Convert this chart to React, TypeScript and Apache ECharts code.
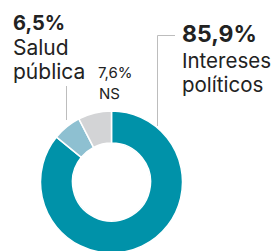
import React, { useEffect, useRef } from "react";
import * as echarts from "echarts";

const categories = ["Intereses políticos", "Salud pública", "NS"];
const values = [85.9, 6.5, 7.6];
const colors = ["#0092a9", "#8ec0d1", "#d3d4d6"];

const fmt = (v: number) => v.toFixed(1).replace(".", ",") + "%";

export default function App() {
  const ref = useRef<HTMLDivElement>(null);
  useEffect(() => {
    document.body.style.margin = "0";
    const chart = echarts.init(ref.current!, null, { renderer: "svg" });
    const FF = "Inter, 'Noto Sans', sans-serif";
    const txt = (text: string, x: number, baseline: number, size: number, bold = false) => ({
      type: "text",
      x,
      y: baseline - size * 0.36,
      style: {
        text,
        fill: "#222",
        font: `${bold ? "bold " : ""}${size}px ${FF}`,
        textAlign: "left",
        textVerticalAlign: "middle",
      },
    });
    const politicos = categories[0].split(" ");
    const salud = categories[1].split(" ");
    chart.setOption({
      animation: false,
      series: [
        {
          type: "pie",
          center: [111.5, 182],
          radius: [39, 71],
          startAngle: 90,
          clockwise: true,
          label: { show: false },
          labelLine: { show: false },
          silent: true,
          itemStyle: { borderColor: "#fff", borderWidth: 1.5 },
          data: categories.map((c, i) => ({ name: c, value: values[i], itemStyle: { color: colors[i] } })),
        },
      ],
      graphic: [
        { type: "line", shape: { x1: 66.5, y1: 86, x2: 66.5, y2: 120 }, style: { stroke: "#bdbdbd", lineWidth: 1 } },
        {
          type: "polyline",
          shape: { points: [[175, 35.5], [157.5, 35.5], [157.5, 126]] },
          style: { stroke: "#bdbdbd", lineWidth: 1, fill: "none" },
        },
        txt(fmt(values[1]), 13, 30, 20, true),
        txt(salud[0], 13, 55, 21),
        txt(salud[1], 13, 79, 21),
        txt(fmt(values[2]), 98, 78, 15),
        txt(categories[2], 99, 99, 15),
        txt(fmt(values[0]), 182, 42, 23, true),
        txt(politicos[0], 182, 68, 20.5),
        txt(politicos[1], 182, 92, 20.5),
      ],
    });
    return () => chart.dispose();
  }, []);
  return <div ref={ref} style={{ width: 276, height: 251 }} />;
}
